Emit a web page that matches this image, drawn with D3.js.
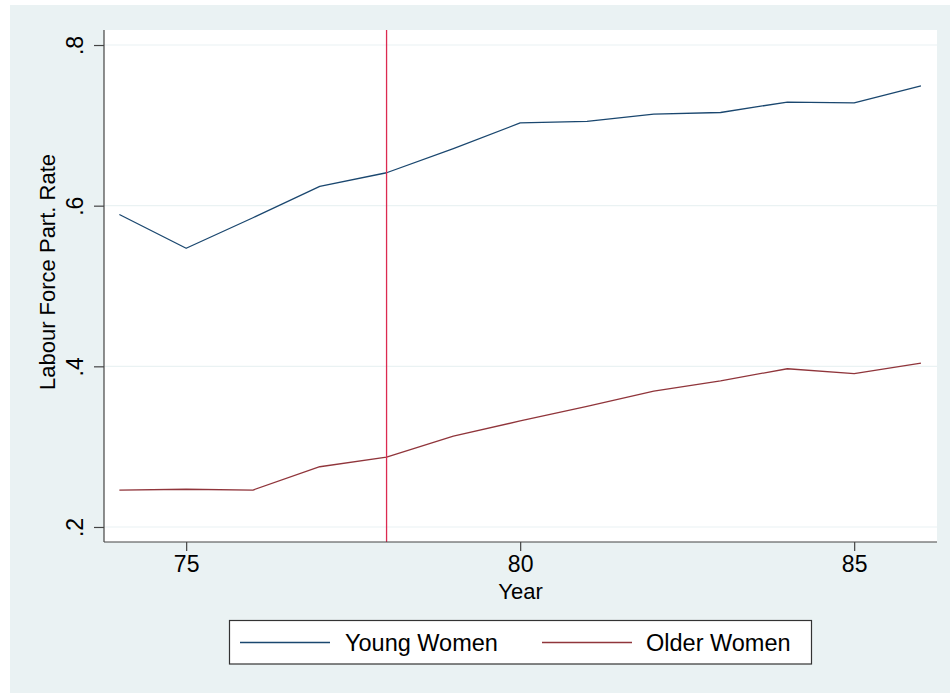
<!DOCTYPE html>
<html>
<head>
<meta charset="utf-8">
<script src="https://cdn.jsdelivr.net/npm/d3@7"></script>
<style>
  html, body { margin: 0; padding: 0; background: #ffffff; }
  svg { display: block; font-family: "Liberation Sans", Arial, Helvetica, sans-serif; }
</style>
</head>
<body>
<svg id="chart" width="950" height="693"></svg>
<script>
// Labour force participation by year (two-digit years)
const years = [74, 75, 76, 77, 78, 79, 80, 81, 82, 83, 84, 85, 86];
const youngWomen = [0.589, 0.547, 0.585, 0.624, 0.641, 0.671, 0.703, 0.705, 0.714, 0.716, 0.729, 0.728, 0.749];
const olderWomen = [0.246, 0.247, 0.246, 0.275, 0.287, 0.313, 0.332, 0.350, 0.369, 0.382, 0.397, 0.391, 0.404];
const xTicks = [75, 80, 85];
const yTicks = [0.2, 0.4, 0.6, 0.8];
const yTickLabels = [".2", ".4", ".6", ".8"];
const markerYear = 78;
const seriesNames = ["Young Women", "Older Women"];
const seriesColors = ["#1a476f", "#90353b"];

const svg = d3.select("#chart");
const W = 950, H = 693;

// outer graph region
svg.append("rect").attr("x", 10).attr("y", 5).attr("width", W - 10).attr("height", H - 5)
  .attr("fill", "#eaf2f3");

// plot region
const plot = { left: 104, top: 30, right: 937, bottom: 542 };
svg.append("rect").attr("x", plot.left).attr("y", plot.top)
  .attr("width", plot.right - plot.left).attr("height", plot.bottom - plot.top)
  .attr("fill", "#ffffff");

const x = d3.scaleLinear().domain([73.77, 86.24]).range([plot.left, plot.right]);
const y = d3.scaleLinear().domain([0.1813, 0.8187]).range([plot.bottom, plot.top]);

// horizontal grid lines
svg.append("g").selectAll("line").data(yTicks).join("line")
  .attr("x1", plot.left).attr("x2", plot.right)
  .attr("y1", d => y(d)).attr("y2", d => y(d))
  .attr("stroke", "#eaf2f3").attr("stroke-width", 1.2);

// series lines
const line = d3.line().x((d, i) => x(years[i])).y(d => y(d));
[youngWomen, olderWomen].forEach((s, k) => {
  svg.append("path").datum(s).attr("d", line)
    .attr("fill", "none").attr("stroke", seriesColors[k])
    .attr("stroke-width", 1.3).attr("stroke-linejoin", "round");
});

// vertical reference line
svg.append("line")
  .attr("x1", x(markerYear)).attr("x2", x(markerYear))
  .attr("y1", plot.top).attr("y2", plot.bottom)
  .attr("stroke", "#dc2a50").attr("stroke-width", 1.3);

// x axis
const xAxis = d3.axisBottom(x).tickValues(xTicks).tickSize(9).tickPadding(5)
  .tickFormat(d3.format("d"));
const gx = svg.append("g").attr("transform", `translate(0,${plot.bottom})`).call(xAxis);
gx.select(".domain").attr("stroke", "#444").attr("stroke-width", 1.2)
  .attr("d", `M${plot.left},0H${plot.right}`);
gx.selectAll(".tick line").attr("stroke", "#444").attr("stroke-width", 1.2);
gx.selectAll(".tick text").attr("fill", "#000").attr("font-size", 23)
  .attr("font-family", "Liberation Sans, Arial, sans-serif").attr("dy", "0.71em");

// y axis
const yAxis = d3.axisLeft(y).tickValues(yTicks).tickSize(10).tickPadding(0)
  .tickFormat((d, i) => yTickLabels[i]);
const gy = svg.append("g").attr("transform", `translate(${plot.left},0)`).call(yAxis);
gy.select(".domain").attr("stroke", "#444").attr("stroke-width", 1.2)
  .attr("d", `M0,${plot.top}V${plot.bottom}`);
gy.selectAll(".tick line").attr("stroke", "#444").attr("stroke-width", 1.2);
gy.selectAll(".tick text").attr("fill", "#000").attr("font-size", 23)
  .attr("font-family", "Liberation Sans, Arial, sans-serif")
  .attr("x", null).attr("dy", null)
  .attr("text-anchor", "middle")
  .attr("transform", "translate(-21,0) rotate(-90)");

// axis titles
svg.append("text").attr("x", (plot.left + plot.right) / 2).attr("y", 599)
  .attr("text-anchor", "middle").attr("font-size", 22).attr("fill", "#000").text("Year");
svg.append("text")
  .attr("transform", `translate(55,${(plot.top + plot.bottom) / 2 - 14}) rotate(-90)`)
  .attr("text-anchor", "middle").attr("font-size", 22).attr("fill", "#000")
  .text("Labour Force Part. Rate");

// legend
const lg = svg.append("g");
lg.append("rect").attr("x", 229.5).attr("y", 620.5).attr("width", 582).attr("height", 43.5)
  .attr("fill", "#ffffff").attr("stroke", "#333").attr("stroke-width", 1.2);
const legendItems = [
  { x0: 240, x1: 330, tx: 345 },
  { x0: 542, x1: 632, tx: 646 }
];
legendItems.forEach((it, k) => {
  lg.append("line").attr("x1", it.x0).attr("x2", it.x1).attr("y1", 642.5).attr("y2", 642.5)
    .attr("stroke", seriesColors[k]).attr("stroke-width", 1.3);
  lg.append("text").attr("x", it.tx).attr("y", 650.5).attr("font-size", 23.5)
    .attr("fill", "#000").text(seriesNames[k]);
});
</script>
</body>
</html>
